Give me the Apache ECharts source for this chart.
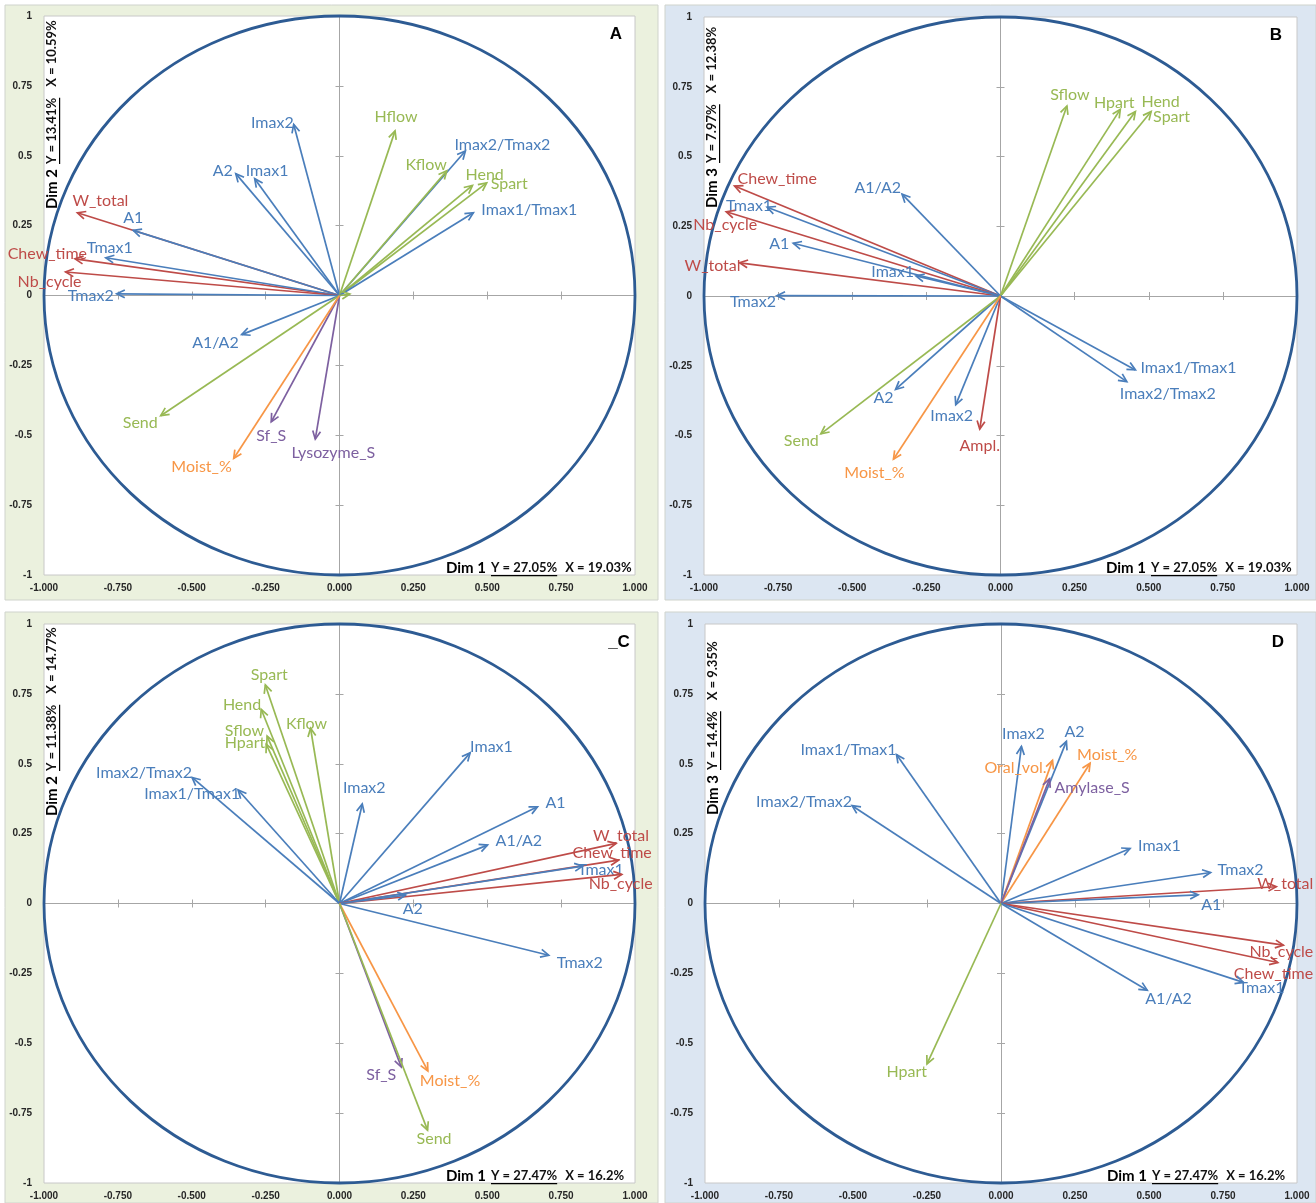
<!DOCTYPE html>
<html><head><meta charset="utf-8">
<script src="https://cdn.jsdelivr.net/npm/echarts@6/dist/echarts.min.js"></script>
<style>html,body{margin:0;padding:0;background:#fff}#chart{width:1316px;height:1203px}</style>
</head><body><div id="chart"></div>
<script>
// ---------------- DATA ----------------
// Panel A : Dim 1 (x) vs Dim 2 (y)
const A_names  = ['W_total','A1','Chew_time','Tmax1','Nb_cycle','Tmax2','Imax2','A2','Imax1','Hflow','Imax2/Tmax2','Kflow','Hend','Spart','Imax1/Tmax1','A1/A2','Send','Sf_S','Lysozyme_S','Moist_%','Sflow'];
const A_x      = [-0.887,-0.698,-0.895,-0.791,-0.927,-0.754,-0.155,-0.351,-0.287,0.188,0.426,0.363,0.450,0.498,0.453,-0.331,-0.605,-0.231,-0.082,-0.358,0.035];
const A_y      = [0.296,0.233,0.131,0.135,0.084,0.006,0.612,0.436,0.418,0.589,0.517,0.446,0.394,0.403,0.296,-0.140,-0.430,-0.452,-0.514,-0.583,0.005];
const A_groups = ['r','b','r','b','r','b','b','b','b','g','b','g','g','g','b','b','g','p','p','o','g'];

// Panel B : Dim 1 (x) vs Dim 3 (y)
const B_names  = ['Chew_time','Tmax1','Nb_cycle','A1','W_total','Imax1','Tmax2','A1/A2','Sflow','Hpart','Hend','Spart','Imax1/Tmax1','Imax2/Tmax2','A2','Send','Imax2','Ampl.','Moist_%'];
const B_x      = [-0.897,-0.787,-0.925,-0.699,-0.880,-0.285,-0.754,-0.332,0.224,0.404,0.455,0.508,0.455,0.426,-0.354,-0.606,-0.151,-0.070,-0.361];
const B_y      = [0.394,0.318,0.302,0.189,0.119,0.072,0.001,0.365,0.681,0.669,0.661,0.661,-0.265,-0.307,-0.335,-0.494,-0.390,-0.477,-0.585];
const B_groups = ['r','b','r','b','r','b','b','b','g','g','g','g','b','b','b','g','b','r','o'];

// Panel C : Dim 1 (x) vs Dim 2 (y)
const C_names  = ['Spart','Hend','Kflow','Sflow','Hpart','Imax2/Tmax2','Imax1/Tmax1','Imax2','Imax1','A1','A1/A2','W_total','Chew_time','Tmax1','Nb_cycle','A2','Tmax2','Sf_S','Moist_%','Send'];
const C_x      = [-0.251,-0.265,-0.098,-0.245,-0.248,-0.499,-0.343,0.077,0.442,0.670,0.501,0.936,0.944,0.823,0.955,0.224,0.708,0.209,0.299,0.298];
const C_y      = [0.782,0.695,0.627,0.599,0.570,0.451,0.406,0.356,0.539,0.346,0.209,0.215,0.155,0.134,0.104,0.030,-0.185,-0.585,-0.599,-0.811];
const C_groups = ['g','g','g','g','g','b','b','b','b','b','b','r','r','b','r','b','b','p','o','g'];

// Panel D : Dim 1 (x) vs Dim 3 (y)
const D_names  = ['Imax1/Tmax1','Imax2/Tmax2','Imax2','A2','Oral_vol.','Moist_%','Amylase_S','Imax1','Tmax2','W_total','A1','Nb_cycle','Chew_time','Tmax1','A1/A2','Hpart'];
const D_x      = [-0.353,-0.503,0.069,0.221,0.174,0.301,0.164,0.436,0.708,0.930,0.666,0.954,0.935,0.819,0.494,-0.250];
const D_y      = [0.533,0.350,0.562,0.580,0.512,0.502,0.446,0.197,0.111,0.060,0.031,-0.149,-0.211,-0.282,-0.310,-0.574];
const D_groups = ['b','b','b','b','o','o','p','b','b','r','b','r','r','b','b','g'];

// Axis texts
const TITLES = [
  {letter:'A', dimX:'Dim 1', yPct:'Y = 27.05%', xPct:'X = 19.03%', dimY:'Dim 2', yPctV:'Y = 13.41%', xPctV:'X = 10.59%'},
  {letter:'B', dimX:'Dim 1', yPct:'Y = 27.05%', xPct:'X = 19.03%', dimY:'Dim 3', yPctV:'Y = 7.97%',  xPctV:'X = 12.38%'},
  {letter:'_C',dimX:'Dim 1', yPct:'Y = 27.47%', xPct:'X = 16.2%',  dimY:'Dim 2', yPctV:'Y = 11.38%', xPctV:'X = 14.77%'},
  {letter:'D', dimX:'Dim 1', yPct:'Y = 27.47%', xPct:'X = 16.2%',  dimY:'Dim 3', yPctV:'Y = 14.4%',  xPctV:'X = 9.35%'}
];

// ---------------- LAYOUT / STYLE ----------------
const COLORS = {b:'#4a7ebb', r:'#be4b48', g:'#98b954', o:'#f79646', p:'#7d60a0'};
// label placement relative to arrow tip: [dx, dy, align]
const LBL_A = {'W_total':[-5,-12,'left'],'A1':[0,-13,'center'],'Chew_time':[12,-5,'right'],'Tmax1':[4,-10,'center'],
  'Nb_cycle':[-16,10,'center'],'Tmax2':[-3,2,'right'],'Imax2':[0,-2,'right'],'A2':[-3,-3,'right'],'Imax1':[-9,-8,'left'],
  'Hflow':[1,-14,'center'],'Imax2/Tmax2':[-11,-6,'left'],'Kflow':[0,-6,'right'],'Hend':[-7,-11,'left'],'Spart':[4,1,'left'],
  'Imax1/Tmax1':[8,-3,'left'],'A1/A2':[-3,8,'right'],'Send':[-3,7,'right'],'Sf_S':[0,14,'center'],'Lysozyme_S':[18,14,'center'],
  'Moist_%':[-2,8,'right']};
const LBL_B = {'Chew_time':[3,-7,'left'],'Tmax1':[5,-1,'right'],'Nb_cycle':[-1,13,'center'],'A1':[-4,1,'right'],
  'W_total':[1,3,'right'],'Imax1':[-2,-4,'right'],'Tmax2':[-1,6,'right'],'A1/A2':[-1,-6,'right'],'Sflow':[3,-11,'center'],
  'Hpart':[-6,-7,'center'],'Hend':[6,-10,'left'],'Spart':[2,5,'left'],'Imax1/Tmax1':[5,-2,'left'],'Imax2/Tmax2':[-7,12,'left'],
  'A2':[-2,8,'right'],'Send':[-2,7,'right'],'Imax2':[-4,11,'center'],'Ampl.':[0,17,'center'],'Moist_%':[-19,14,'center']};
const LBL_C = {'Spart':[4,-10,'center'],'Hend':[0,-4,'right'],'Kflow':[-4,-4,'center'],'Sflow':[-3,-5,'right'],
  'Hpart':[-1,-1,'right'],'Imax2/Tmax2':[0,-5,'right'],'Imax1/Tmax1':[2,4,'right'],'Imax2':[2,-16,'center'],'Imax1':[0,-6,'left'],
  'A1':[8,-4,'left'],'A1/A2':[8,-4,'left'],'W_total':[-23,-8,'left'],'Chew_time':[-46,-7,'left'],'Tmax1':[-5,4,'left'],
  'Nb_cycle':[-33,9,'left'],'A2':[-3,14,'left'],'Tmax2':[8,8,'left'],'Sf_S':[-5,8,'right'],'Moist_%':[-8,10,'left'],'Send':[-11,9,'left']};
const LBL_D = {'Imax1/Tmax1':[0,-5,'right'],'Imax2/Tmax2':[0,-4,'right'],'Imax2':[2,-13,'center'],'A2':[-2,-10,'left'],
  'Oral_vol.':[-6,7,'right'],'Moist_%':[-13,-8,'left'],'Amylase_S':[5,9,'left'],'Imax1':[8,-3,'left'],'Tmax2':[7,-3,'left'],
  'W_total':[-19,-3,'left'],'A1':[3,10,'left'],'Nb_cycle':[-34,7,'left'],'Chew_time':[-44,11,'left'],'Tmax1':[-5,6,'left'],
  'A1/A2':[-2,9,'left'],'Hpart':[0,8,'right']};

const PANELS = [
  {names:A_names,x:A_x,y:A_y,groups:A_groups,labels:LBL_A, grid:{left:44,top:16,width:591,height:559}, bg:{x:5,y:5,w:653,h:595,c:'#ebf1de'},
   letterPos:[616,34], bottomPos:[446,568], vertPos:[52,209]},
  {names:B_names,x:B_x,y:B_y,groups:B_groups,labels:LBL_B, grid:{left:704,top:17,width:593,height:558}, bg:{x:665,y:5,w:651,h:595,c:'#dce6f2'},
   letterPos:[1276,35], bottomPos:[1106,568], vertPos:[712,208]},
  {names:C_names,x:C_x,y:C_y,groups:C_groups,labels:LBL_C, grid:{left:44,top:624,width:591,height:559}, bg:{x:5,y:612,w:653,h:591,c:'#ebf1de'},
   letterPos:[619,642], bottomPos:[446,1176], vertPos:[52,816]},
  {names:D_names,x:D_x,y:D_y,groups:D_groups,labels:LBL_D, grid:{left:705,top:624,width:592,height:559}, bg:{x:665,y:612,w:651,h:591,c:'#dce6f2'},
   letterPos:[1278,642], bottomPos:[1107,1176], vertPos:[713,815]}
];

const TICK_FONT = 'Liberation Sans, Arial, sans-serif';
const LABEL_FONT = '16px Lato, "Open Sans", sans-serif';

const grids = [], xAxes = [], yAxes = [], series = [], graphics = [];
const measure = (function(){const c=document.createElement('canvas').getContext('2d');return function(txt,font){c.font=font;return c.measureText(txt).width;};})();

PANELS.forEach(function(P, pi){
  const g0 = grids.length;
  const r = P.grid;
  grids.push({left:r.left, top:r.top, width:r.width, height:r.height, show:true, backgroundColor:'#ffffff', borderColor:'#c8c8c8', borderWidth:1, z:-1});
  grids.push({left:r.left, top:r.top, width:r.width, height:r.height, show:false});
  grids.push({left:r.left, top:r.top, width:r.width, height:r.height, show:false});
  const base = {type:'value', min:-1, max:1, interval:0.25, splitLine:{show:false}};
  const lineCol = '#a6a6a6';
  // labelled axes at plot edges
  xAxes.push(Object.assign({}, base, {gridIndex:g0, position:'bottom', axisLine:{show:false,onZero:false}, axisTick:{show:false},
    axisLabel:{formatter:function(v){return v.toFixed(3);}, fontSize:10, fontWeight:'bold', fontFamily:TICK_FONT, color:'#262626', margin:8}}));
  yAxes.push(Object.assign({}, base, {gridIndex:g0, position:'left', axisLine:{show:false,onZero:false}, axisTick:{show:false},
    axisLabel:{fontSize:10, fontWeight:'bold', fontFamily:TICK_FONT, color:'#262626', margin:12}}));
  // zero lines with cross ticks
  xAxes.push(Object.assign({}, base, {gridIndex:g0+1, position:'bottom', axisLine:{show:true,onZero:true,lineStyle:{color:lineCol,width:1}},
    axisTick:{show:true,length:4,lineStyle:{color:lineCol}}, axisLabel:{show:false}}));
  yAxes.push(Object.assign({}, base, {gridIndex:g0+1, position:'left', axisLine:{show:true,onZero:true,lineStyle:{color:lineCol,width:1}},
    axisTick:{show:true,length:4,lineStyle:{color:lineCol}}, axisLabel:{show:false}}));
  xAxes.push(Object.assign({}, base, {gridIndex:g0+2, position:'top', axisLine:{show:true,onZero:true,lineStyle:{color:lineCol,width:1}},
    axisTick:{show:true,length:4,lineStyle:{color:lineCol}}, axisLabel:{show:false}}));
  yAxes.push(Object.assign({}, base, {gridIndex:g0+2, position:'right', axisLine:{show:true,onZero:true,lineStyle:{color:lineCol,width:1}},
    axisTick:{show:true,length:4,lineStyle:{color:lineCol}}, axisLabel:{show:false}}));

  // unit correlation circle
  series.push({type:'custom', xAxisIndex:g0, yAxisIndex:g0, z:3, silent:true, data:[[0,0]],
    renderItem:function(params, api){
      const c = api.coord([api.value(0), api.value(1)]);
      const s = api.size([1,1]);
      return {type:'ellipse', shape:{cx:c[0], cy:c[1], rx:s[0], ry:s[1]}, style:{stroke:'#2d5b93', lineWidth:2.8, fill:null}};
    }});

  // arrows
  series.push({type:'custom', xAxisIndex:g0, yAxisIndex:g0, z:5, silent:true,
    data:P.x.map(function(v,i){return [v, P.y[i], i];}),
    renderItem:function(params, api){
      const i = api.value(2);
      const o = api.coord([0,0]);
      const t = api.coord([api.value(0), api.value(1)]);
      const col = COLORS[P.groups[i]];
      const ang = Math.atan2(t[1]-o[1], t[0]-o[0]);
      const L = 9, a = 0.45;
      const h1 = [t[0]-L*Math.cos(ang-a), t[1]-L*Math.sin(ang-a)];
      const h2 = [t[0]-L*Math.cos(ang+a), t[1]-L*Math.sin(ang+a)];
      const children = [
        {type:'line', shape:{x1:o[0],y1:o[1],x2:t[0],y2:t[1]}, style:{stroke:col, lineWidth:1.7}},
        {type:'polyline', shape:{points:[h1,t,h2]}, style:{stroke:col, lineWidth:1.7, fill:null}}
      ];
      const lp = P.labels[P.names[i]];
      if (lp) children.push({type:'text', x:t[0]+lp[0], y:t[1]+lp[1],
        style:{text:P.names[i], fill:col, font:LABEL_FONT, align:lp[2], verticalAlign:'middle'}});
      return {type:'group', children:children};
    }});

  // panel background
  graphics.push({type:'rect', z:-100, shape:{x:P.bg.x, y:P.bg.y, width:P.bg.w, height:P.bg.h}, style:{fill:P.bg.c, stroke:'#cfd3cc', lineWidth:1}});
  const T = TITLES[pi];
  graphics.push({type:'text', z:50, x:P.letterPos[0], y:P.letterPos[1], style:{text:T.letter, font:'bold 17px "Liberation Sans", Arial, sans-serif', fill:'#000', align:'center', verticalAlign:'middle'}});

  // axis titles
  const fD = 'bold 15px Lato, sans-serif', fP = 'bold 13px Lato, sans-serif';
  function titleChildren(d, yp, xp, gap2){
    const wD = measure(d, fD), wY = measure(yp, fP);
    const x1 = wD + 5, x2 = x1 + wY + gap2;
    return [
      {type:'text', x:0, y:0, style:{text:d, font:fD, fill:'#000', align:'left', verticalAlign:'middle'}},
      {type:'text', x:x1, y:0, style:{text:yp, font:fP, fill:'#111', align:'left', verticalAlign:'middle'}},
      {type:'rect', shape:{x:x1, y:7, width:wY, height:1.2}, style:{fill:'#000'}},
      {type:'text', x:x2, y:0, style:{text:xp, font:fP, fill:'#111', align:'left', verticalAlign:'middle'}}
    ];
  }
  graphics.push({type:'group', z:50, x:P.bottomPos[0], y:P.bottomPos[1], children:titleChildren(T.dimX, T.yPct, T.xPct, 8)});
  graphics.push({type:'group', z:50, x:P.vertPos[0], y:P.vertPos[1], rotation:Math.PI/2, children:titleChildren(T.dimY, T.yPctV, T.xPctV, 11)});
});

const chart = echarts.init(document.getElementById('chart'), null, {renderer:'canvas'});
chart.setOption({
  animation:false,
  grid:grids, xAxis:xAxes, yAxis:yAxes, series:series,
  graphic:{elements:graphics}
});
</script></body></html>
